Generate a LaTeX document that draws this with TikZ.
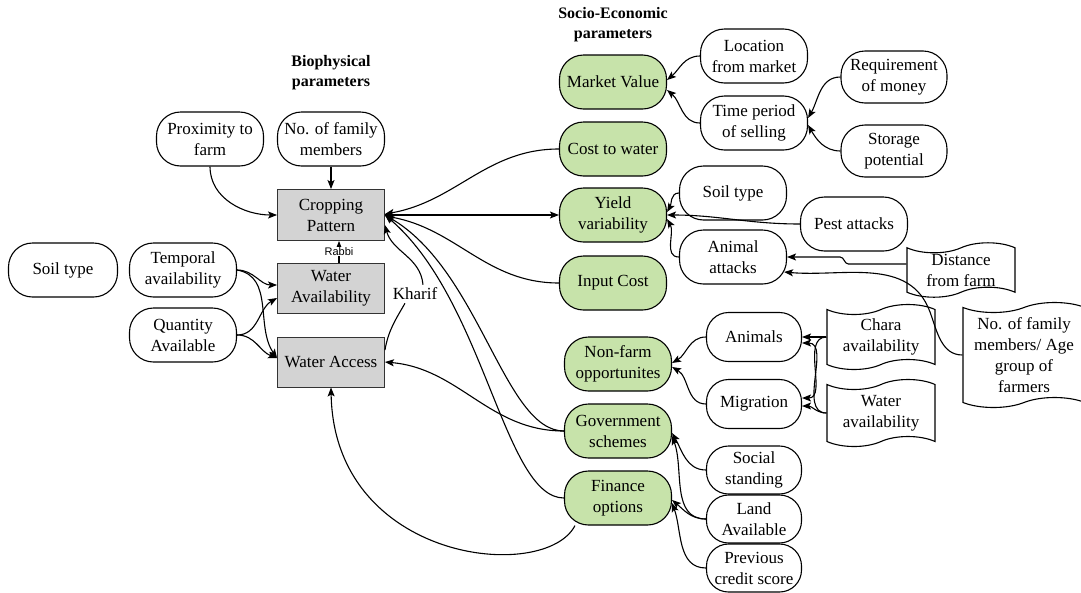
\documentclass[tikz,border=0pt]{standalone}
\usepackage{fontspec}
\setmainfont{Liberation Serif}
\newfontfamily\labelsans{Liberation Sans}
\usetikzlibrary{arrows.meta,shapes.symbols,calc}
\definecolor{leafgreen}{RGB}{199,227,170}
\definecolor{boxgrey}{RGB}{211,211,211}
\begin{document}
\begin{tikzpicture}[x=1pt,y=1pt,
  every node/.style={font=\fontsize{17}{21}\selectfont, align=center, inner sep=1pt},
  pill/.style={draw, line width=1.1pt, rounded corners=24pt, minimum width=107pt, minimum height=54pt},
  smallpill/.style={draw, line width=1.1pt, rounded corners=22pt, minimum width=95pt, minimum height=49pt},
  greenpill/.style={pill, fill=leafgreen},
  greybox/.style={draw=black!80, line width=0.9pt, fill=boxgrey, minimum width=107pt, minimum height=50pt},
  flag/.style={draw, line width=1.1pt, tape, tape bend top=in and out, tape bend bottom=in and out, tape bend height=10pt, minimum width=108pt},
  heading/.style={font=\fontsize{16}{20}\selectfont\bfseries},
  wire/.style={line width=1.1pt},
  arr/.style={line width=1.1pt, -{Stealth[length=9pt,width=7pt,inset=2pt]}},
]
\useasboundingbox (0,0) rectangle (1081,-592);

% headings
\node[heading] (bioh) at (331,-73) {Biophysical\\parameters};
\node[heading] (soch) at (613,-25) {Socio-Economic\\parameters};

% biophysical side
\node[pill] (prox) at (210,-139) {Proximity to\\farm};
\node[pill] (fam) at (331,-139) {No. of family\\members};
\node[greybox, minimum height=51pt] (crop) at (331,-215) {Cropping\\Pattern};
\node[pill, minimum width=109pt] (soilL) at (63,-270) {Soil type};
\node[pill] (temp) at (183,-270) {Temporal\\availability};
\node[greybox] (wavail) at (331,-288) {Water\\Availability};
\node[pill] (quant) at (183,-335) {Quantity\\Available};
\node[greybox] (waccess) at (331,-362) {Water Access};
\node[inner sep=3pt] (kharif) at (415,-294) {Kharif};

% socio-economic parameters
\node[greenpill] (market) at (613,-82) {Market Value};
\node[greenpill] (cost) at (613,-149) {Cost to water};
\node[greenpill] (yield) at (613,-215) {Yield\\variability};
\node[greenpill] (input) at (613,-283) {Input Cost};
\node[greenpill] (nonfarm) at (618,-364) {Non-farm\\opportunites};
\node[greenpill] (gov) at (618,-431) {Government\\schemes};
\node[greenpill] (fin) at (618,-498) {Finance\\options};

% contributing factors
\node[pill] (loc) at (754,-56) {Location\\from market};
\node[pill] (time) at (754,-123) {Time period\\of selling};
\node[pill, minimum width=106pt, minimum height=52pt] (req) at (894,-77) {Requirement\\of money};
\node[pill, minimum width=106pt, minimum height=52pt] (stor) at (894,-151) {Storage\\potential};
\node[pill] (soilR) at (733,-193) {Soil type};
\node[pill] (att) at (733,-257) {Animal\\attacks};
\node[pill] (pest) at (854,-224) {Pest attacks};
\node[flag, minimum height=53pt] (dist) at (961,-270) {Distance\\from farm};
\node[smallpill] (animals) at (754,-337) {Animals};
\node[smallpill] (migr) at (754,-404) {Migration};
\node[flag, minimum height=65pt] (chara) at (881,-337) {Chara\\availability};
\node[flag, minimum height=67pt] (water) at (881,-413) {Water\\availability};
\node[flag, minimum width=122pt, minimum height=105pt] (nofam) at (1024,-355) {No. of family\\members/ Age\\group of\\farmers};
\node[smallpill, minimum height=48pt] (social) at (754,-470) {Social\\standing};
\node[smallpill, minimum height=48pt] (land) at (754,-519) {Land\\Available};
\node[smallpill, minimum height=48pt] (prev) at (754,-568) {Previous\\credit score};
\coordinate (kink) at (930,-312);

% links into the cropping pattern
\draw[arr] (prox.south) to[out=-90,in=180] (crop.west);
\draw[arr] (fam.south) -- (crop.north);
\draw[arr] ([xshift=8]wavail.north) -- node[fill=white, inner sep=0.5pt, font=\labelsans\fontsize{11}{12}\selectfont] {Rabbi} ([xshift=8]crop.south);
\draw[wire] ([yshift=12]waccess.east) to[out=80,in=-120] ([xshift=-10]kharif.south);
\draw[arr] ([xshift=8]kharif.north) to[out=95,in=-75] ([yshift=-10]crop.east);

% water inputs
\draw[arr] (temp.east) to[out=0,in=180] ([yshift=3]wavail.west);
\draw[arr] (temp.east) to[out=-10,in=125] ([yshift=4]waccess.west);
\draw[arr] (quant.east) to[out=0,in=-150] ([yshift=-10]wavail.west);
\draw[arr] (quant.east) to[out=0,in=160] ([yshift=4]waccess.west);

% socio-economic links
\draw[arr] (cost.west) to[out=180,in=10] ([yshift=1]crop.east);
\draw[arr] (crop.east) -- (yield.west);
\draw[arr] (input.west) to[out=180,in=-10] ([yshift=-1]crop.east);
\draw[arr] (gov.west) .. controls +(-60,0) and +(95,-55) .. (crop.east);
\draw[arr] (fin.west) .. controls +(-60,0) and +(100,-85) .. (crop.east);
\draw[arr] (gov.west) to[out=180,in=-5] (waccess.east);
\draw[arr] ([xshift=-43]fin.south) .. controls +(-30,-58) and +(3,-175) .. (waccess.south);

% market value
\draw[arr] (loc.west) to[out=180,in=40] ([yshift=2]market.east);
\draw[arr] (time.west) to[out=180,in=-40] ([yshift=-8]market.east);
\draw[arr] (req.west) to[out=180,in=60] ([yshift=5]time.east);
\draw[arr] (stor.west) to[out=180,in=-60] ([yshift=-2]time.east);

% yield variability
\draw[arr] (soilR.west) to[out=180,in=60] ([yshift=3]yield.east);
\draw[arr] (pest.west) to[out=180,in=0] (yield.east);
\draw[arr] (att.west) to[out=180,in=-60] ([yshift=-4]yield.east);
\draw[arr] ([yshift=6]dist.west) -- ++(-58,0) to[out=180,in=0] ($(att.east)+(53,0)$) -- (att.east);
\draw[arr] (nofam.west) to[out=180,in=-70] (kink) to[out=110,in=-5] ([xshift=-3,yshift=-15]att.east);

% non-farm opportunities
\draw[arr] (animals.west) to[out=180,in=30] ([yshift=1]nonfarm.east);
\draw[arr] (migr.west) to[out=180,in=-30] ([yshift=-3]nonfarm.east);
\draw[arr] (chara.west) -- (animals.east);
\draw[arr] (chara.west) to[out=180,in=0] ([yshift=6]migr.east);
\draw[arr] (water.west) to[out=180,in=0] ([yshift=-2]migr.east);
\draw[arr] (water.west) to[out=180,in=0] ([yshift=-6]animals.east);

% schemes and finance
\draw[arr] (social.west) to[out=180,in=-60] ([yshift=-2]gov.east);
\draw[arr] (land.west) to[out=180,in=-70] ([yshift=-5]gov.east);
\draw[arr] (land.west) to[out=180,in=-40] ([yshift=-2]fin.east);
\draw[arr] (prev.west) to[out=180,in=-70] ([yshift=-5]fin.east);
\end{tikzpicture}
\end{document}
